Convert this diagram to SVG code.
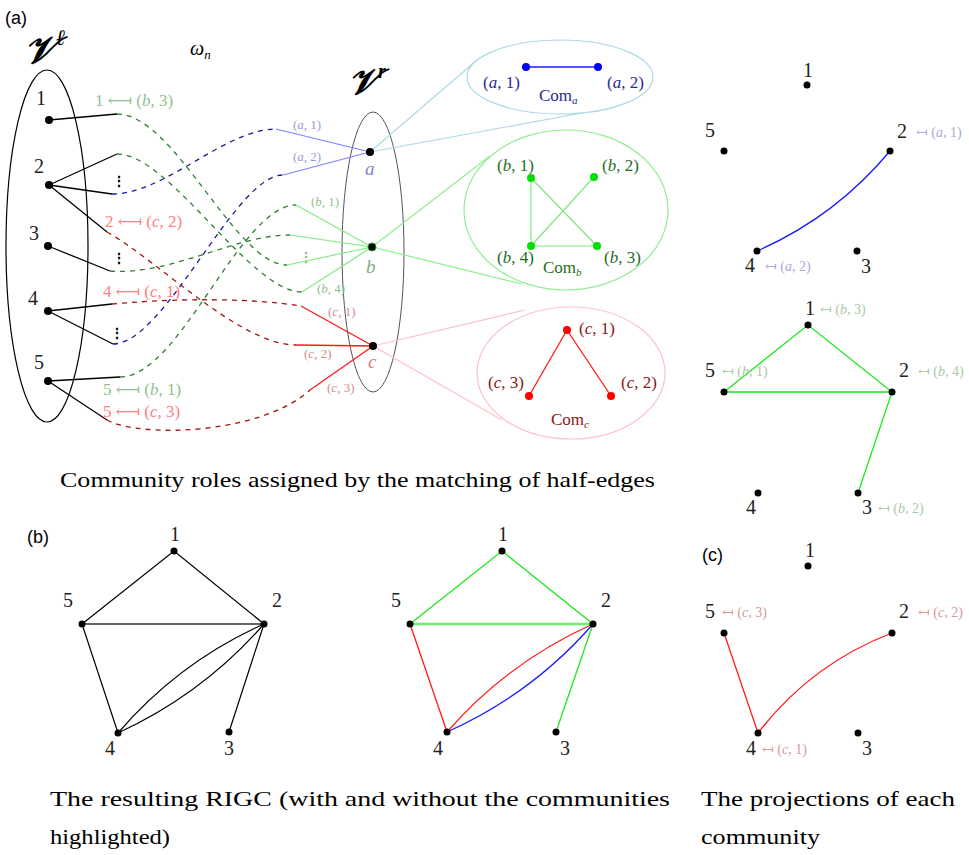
<svg xmlns="http://www.w3.org/2000/svg" width="969" height="855" viewBox="0 0 969 855">
<style>
text{font-family:"Liberation Serif","DejaVu Serif",serif;}
.sans{font-family:"Liberation Sans",Arial,sans-serif;font-size:18px;fill:#000;}
.nl{font-size:20px;fill:#222;}
.it{font-style:italic;}
.dot{fill:#000;}
.stub{stroke:#000;stroke-width:1.3;fill:none;}
.dash{stroke-width:1.3;fill:none;stroke-dasharray:5 5;}
.dg{stroke:#2f7f2f;}
.db{stroke:#1c1c99;}
.dr{stroke:#a31515;}
.sa{stroke:#8080ff;stroke-width:1.2;fill:none;}
.sb{stroke:#80ec80;stroke-width:1.2;fill:none;}
.sc{stroke:#ff1a1a;stroke-width:1.3;fill:none;}
.tg{fill:#8fbf8f;font-size:17px;}
.tr{fill:#ff8080;font-size:17px;}
.sma{fill:#9a9ad8;font-size:13px;}
.smb{fill:#8fbf8f;font-size:13px;}
.smc{fill:#d88a8a;font-size:13px;}
.ka{fill:#2a2a90;font-size:17px;}
.kb{fill:#1e6e1e;font-size:17px;}
.kc{fill:#8b1515;font-size:17px;}
.pa{fill:#a8a8dc;font-size:14px;}
.pb{fill:#a8c8a8;font-size:14px;}
.pc{fill:#d49a9a;font-size:14px;}
.e{stroke:#000;stroke-width:1.2;fill:none;}
.eg{stroke:#1ee81e;stroke-width:1.3;fill:none;}
.er{stroke:#ff1a1a;stroke-width:1.3;fill:none;}
.eb{stroke:#1a1aff;stroke-width:1.3;fill:none;}
.cap{font-size:21px;fill:#000;}
</style>

<!-- Panel (a) headers -->
<text class="sans" x="5" y="24">(a)</text>
<text x="24" y="63" font-size="38" font-weight="bold" font-style="italic">𝒱<tspan font-size="22" dy="-18" font-style="italic">ℓ</tspan></text>
<text x="190" y="55" font-size="20" font-style="italic">ω<tspan font-size="13" dy="4">n</tspan></text>
<text x="348" y="94" font-size="36" font-weight="bold" font-style="italic">𝒱<tspan font-size="20" dy="-16" font-style="italic">r</tspan></text>

<!-- left vertex set -->
<g id="Vl">
<ellipse cx="47" cy="246" rx="41" ry="176" fill="none" stroke="#000" stroke-width="1.2"/>
</g>
<g id="Vr">
<ellipse cx="373" cy="252" rx="31" ry="140" fill="none" stroke="#555" stroke-width="1"/>
</g>

<!-- connectors -->
<g id="connectors">
<!-- left stubs -->
<path class="stub" d="M49,120 L117,114"/>
<path class="stub" d="M49,185 L117,154 M49,185 L112,194 M49,185 L107,232"/>
<path class="stub" d="M48,246 L110,271"/>
<path class="stub" d="M48,311 L112,304 M48,311 L113,344"/>
<path class="stub" d="M48,381 L120,377 M48,381 L107,420"/>
<!-- matching -->
<path class="dash dg" d="M117,114 C175,114 235,265 287,265"/>
<path class="dash dg" d="M117,154 C170,154 250,292 302,292"/>
<path class="dash dg" d="M110,271 C170,276 235,235 290,235"/>
<path class="dash dg" d="M120,377 C180,377 240,205 296,205"/>
<path class="dash db" d="M112,194 C165,194 225,129 276,129"/>
<path class="dash db" d="M113,344 C165,344 235,175 283,175"/>
<path class="dash dr" d="M107,232 C160,262 240,345 296,345"/>
<path class="dash dr" d="M112,304 C180,298 250,298 301,306"/>
<path class="dash dr" d="M107,420 C140,438 260,435 310,390"/>
<!-- right stubs -->
<path class="sa" d="M276,129 L370,152 M283,175 L370,152"/>
<path class="sb" d="M296,205 L372,247 M290,235 L372,247 M287,265 L372,247 M302,292 L372,247"/>
<path class="sc" d="M301,306 L373,346 M296,345 L373,346 M310,390 L373,346"/>
<!-- zoom lines -->
<path stroke="#add8e6" stroke-width="1.2" fill="none" d="M370,152 L477,60 M370,152 L582,113"/>
<path stroke="#90ee90" stroke-width="1.2" fill="none" d="M372,247 L490,156 M372,247 L522,284"/>
<path stroke="#ffc0cb" stroke-width="1.2" fill="none" d="M373,346 L525,310 M373,346 L502,420"/>
</g>

<!-- left nodes -->
<g id="l1"><circle class="dot" cx="49" cy="120" r="4"/><text class="nl" x="36" y="105">1</text></g>
<g id="l2"><circle class="dot" cx="49" cy="185" r="4"/><text class="nl" x="34" y="173">2</text></g>
<g id="l3"><circle class="dot" cx="48" cy="246" r="4"/><text class="nl" x="29" y="240">3</text></g>
<g id="l4"><circle class="dot" cx="48" cy="311" r="4"/><text class="nl" x="28" y="305">4</text></g>
<g id="l5"><circle class="dot" cx="48" cy="381" r="4"/><text class="nl" x="34" y="369">5</text></g>
<text x="112" y="186" font-family="DejaVu Sans" font-size="14" font-weight="bold">⋮</text>
<text x="112" y="263" font-family="DejaVu Sans" font-size="14" font-weight="bold">⋮</text>
<text x="110" y="338" font-family="DejaVu Sans" font-size="14" font-weight="bold">⋮</text>
<text x="299" y="262" font-family="DejaVu Sans" font-size="14" font-weight="bold" fill="#8fbf8f">⋮</text>

<!-- left labels -->
<text class="tg" x="95" y="106">1 ⟻ (<tspan class="it">b</tspan>, 3)</text>
<text class="tr" x="105" y="227">2 ⟻ (<tspan class="it">c</tspan>, 2)</text>
<text class="tr" x="103" y="297">4 ⟻ (<tspan class="it">c</tspan>, 1)</text>
<text class="tg" x="103" y="395">5 ⟻ (<tspan class="it">b</tspan>, 1)</text>
<text class="tr" x="103" y="417">5 ⟻ (<tspan class="it">c</tspan>, 3)</text>

<!-- right stub labels -->
<text class="sma" x="293" y="129">(<tspan class="it">a</tspan>, 1)</text>
<text class="sma" x="293" y="161">(<tspan class="it">a</tspan>, 2)</text>
<text class="smb" x="311" y="206">(<tspan class="it">b</tspan>, 1)</text>
<text class="smb" x="317" y="293">(<tspan class="it">b</tspan>, 4)</text>
<text class="smc" x="328" y="316">(<tspan class="it">c</tspan>, 1)</text>
<text class="smc" x="304" y="358">(<tspan class="it">c</tspan>, 2)</text>
<text class="smc" x="327" y="392">(<tspan class="it">c</tspan>, 3)</text>

<!-- right nodes -->
<g id="ra"><circle class="dot" cx="370" cy="152" r="4"/><text x="365" y="175" font-size="19" font-style="italic" fill="#8080c8">a</text></g>
<g id="rb"><circle cx="372" cy="247" r="4" fill="#000" stroke="#2a8a2a" stroke-width="1"/><text x="366" y="273" font-size="19" font-style="italic" fill="#80b080">b</text></g>
<g id="rc"><circle class="dot" cx="373" cy="346" r="4"/><text x="368" y="368" font-size="19" font-style="italic" fill="#d08080">c</text></g>

<!-- Com_a -->
<g id="com-a">
<ellipse cx="560" cy="77" rx="93" ry="37" fill="#fff" stroke="#add8e6" stroke-width="1.2"/>
<line x1="526" y1="67" x2="598" y2="67" stroke="#1a1aff" stroke-width="1.5"/>
<circle cx="526" cy="67" r="4" fill="#0000ff"/>
<circle cx="598" cy="67" r="4" fill="#0000ff"/>
<text class="ka" x="483" y="88">(<tspan class="it">a</tspan>, 1)</text>
<text class="ka" x="607" y="88">(<tspan class="it">a</tspan>, 2)</text>
<text class="ka" x="539" y="101">Com<tspan font-size="11" dy="3" class="it">a</tspan></text>
</g>

<!-- Com_b -->
<g id="com-b">
<ellipse cx="566" cy="210" rx="102" ry="80" fill="#fff" stroke="#90ee90" stroke-width="1.2"/>
<path stroke="#80e880" stroke-width="1.2" fill="none" d="M531,178 L531,246 M531,178 L597,246 M594,177 L531,246 M531,246 L597,246"/>
<circle cx="531" cy="178" r="4" fill="#00e000"/>
<circle cx="594" cy="177" r="4" fill="#00e000"/>
<circle cx="531" cy="246" r="4" fill="#00e000"/>
<circle cx="597" cy="246" r="4" fill="#00e000"/>
<text class="kb" x="497" y="171">(<tspan class="it">b</tspan>, 1)</text>
<text class="kb" x="602" y="171">(<tspan class="it">b</tspan>, 2)</text>
<text class="kb" x="497" y="263">(<tspan class="it">b</tspan>, 4)</text>
<text class="kb" x="604" y="263">(<tspan class="it">b</tspan>, 3)</text>
<text class="kb" x="543" y="273">Com<tspan font-size="11" dy="3" class="it">b</tspan></text>
</g>

<!-- Com_c -->
<g id="com-c">
<ellipse cx="571" cy="373" rx="94" ry="66" fill="#fff" stroke="#ffc0cb" stroke-width="1.2"/>
<path class="er" d="M567,330 L529,396 M567,330 L611,396"/>
<circle cx="567" cy="330" r="4" fill="#ff0000"/>
<circle cx="529" cy="396" r="4" fill="#ff0000"/>
<circle cx="611" cy="396" r="4" fill="#ff0000"/>
<text class="kc" x="579" y="334">(<tspan class="it">c</tspan>, 1)</text>
<text class="kc" x="488" y="388">(<tspan class="it">c</tspan>, 3)</text>
<text class="kc" x="621" y="388">(<tspan class="it">c</tspan>, 2)</text>
<text class="kc" x="551" y="425">Com<tspan font-size="11" dy="3" class="it">c</tspan></text>
</g>

<text class="cap" x="60" y="487" textLength="595" lengthAdjust="spacingAndGlyphs">Community roles assigned by the matching of half-edges</text>

<!-- Projection a -->
<g id="proj-a">
<path class="eb" d="M890,151 Q835,217 757,251"/>
<circle class="dot" cx="807" cy="85" r="3.5"/>
<circle class="dot" cx="724" cy="151" r="3.5"/>
<circle class="dot" cx="890" cy="151" r="3.5"/>
<circle class="dot" cx="757" cy="251" r="3.5"/>
<circle class="dot" cx="857" cy="251" r="3.5"/>
<text class="nl" x="803" y="77">1</text>
<text class="nl" x="705" y="137">5</text>
<text class="nl" x="897" y="138">2</text>
<text class="nl" x="745" y="272">4</text>
<text class="nl" x="861" y="273">3</text>
<text class="pa" x="916" y="137">↤ (<tspan class="it">a</tspan>, 1)</text>
<text class="pa" x="765" y="271">↤ (<tspan class="it">a</tspan>, 2)</text>
</g>

<!-- Projection b -->
<g id="proj-b">
<path class="eg" d="M724,392 L808,325 L892,392 Z M892,392 L858,493"/>
<circle class="dot" cx="808" cy="325" r="3.5"/>
<circle class="dot" cx="724" cy="392" r="3.5"/>
<circle class="dot" cx="892" cy="392" r="3.5"/>
<circle class="dot" cx="758" cy="493" r="3.5"/>
<circle class="dot" cx="858" cy="493" r="3.5"/>
<text class="nl" x="805" y="315">1</text>
<text class="nl" x="705" y="377">5</text>
<text class="nl" x="899" y="377">2</text>
<text class="nl" x="746" y="514">4</text>
<text class="nl" x="862" y="514">3</text>
<text class="pb" x="820" y="314">↤ (<tspan class="it">b</tspan>, 3)</text>
<text class="pb" x="722" y="376">↤ (<tspan class="it">b</tspan>, 1)</text>
<text class="pb" x="918" y="376">↤ (<tspan class="it">b</tspan>, 4)</text>
<text class="pb" x="878" y="513">↤ (<tspan class="it">b</tspan>, 2)</text>
</g>

<!-- Projection c -->
<text class="sans" x="702" y="561">(c)</text>
<g id="proj-c">
<path class="er" d="M724,633 L758,733 Q811,664 892,633"/>
<circle class="dot" cx="808" cy="566" r="3.5"/>
<circle class="dot" cx="724" cy="633" r="3.5"/>
<circle class="dot" cx="892" cy="633" r="3.5"/>
<circle class="dot" cx="758" cy="733" r="3.5"/>
<circle class="dot" cx="858" cy="733" r="3.5"/>
<text class="nl" x="805" y="557">1</text>
<text class="nl" x="705" y="618">5</text>
<text class="nl" x="899" y="618">2</text>
<text class="nl" x="746" y="755">4</text>
<text class="nl" x="862" y="755">3</text>
<text class="pc" x="722" y="617">↤ (<tspan class="it">c</tspan>, 3)</text>
<text class="pc" x="918" y="617">↤ (<tspan class="it">c</tspan>, 2)</text>
<text class="pc" x="762" y="754">↤ (<tspan class="it">c</tspan>, 1)</text>
</g>

<!-- Panel (b) -->
<text class="sans" x="27" y="543">(b)</text>
<g id="rigc">
<path class="e" d="M82,624 L174,551 L264,624 M82,624 L118,733 M264,624 L229,732 M118,733 Q179,662 264,624 M118,733 Q203,694 264,624"/>
<line x1="82" y1="624" x2="264" y2="624" stroke="#666" stroke-width="2"/>
<circle class="dot" cx="174" cy="551" r="3.5"/>
<circle class="dot" cx="82" cy="624" r="3.5"/>
<circle class="dot" cx="264" cy="624" r="3.5"/>
<circle class="dot" cx="118" cy="733" r="3.5"/>
<circle class="dot" cx="229" cy="732" r="3.5"/>
<text class="nl" x="170" y="541">1</text>
<text class="nl" x="63" y="607">5</text>
<text class="nl" x="272" y="607">2</text>
<text class="nl" x="105" y="755">4</text>
<text class="nl" x="224" y="755">3</text>
</g>

<g id="rigc-col">
<path class="eg" d="M410,624 L502,551 L593,624 M593,624 L556,732"/>
<line x1="410" y1="624" x2="593" y2="624" stroke="#6cf06c" stroke-width="2.4"/>
<path class="er" d="M410,624 L447,732 M447,732 Q508,662 593,624"/>
<path class="eb" d="M447,732 Q532,694 593,624"/>
<circle class="dot" cx="502" cy="551" r="3.5"/>
<circle class="dot" cx="410" cy="624" r="3.5"/>
<circle class="dot" cx="593" cy="624" r="3.5"/>
<circle class="dot" cx="447" cy="732" r="3.5"/>
<circle class="dot" cx="556" cy="732" r="3.5"/>
<text class="nl" x="498" y="541">1</text>
<text class="nl" x="391" y="607">5</text>
<text class="nl" x="601" y="607">2</text>
<text class="nl" x="433" y="755">4</text>
<text class="nl" x="560" y="755">3</text>
</g>

<text class="cap" x="50" y="806" textLength="620" lengthAdjust="spacingAndGlyphs">The resulting RIGC (with and without the communities</text>
<text class="cap" x="50" y="844" textLength="120" lengthAdjust="spacingAndGlyphs">highlighted)</text>
<text class="cap" x="701" y="806" textLength="254" lengthAdjust="spacingAndGlyphs">The projections of each</text>
<text class="cap" x="701" y="844" textLength="119" lengthAdjust="spacingAndGlyphs">community</text>
</svg>
